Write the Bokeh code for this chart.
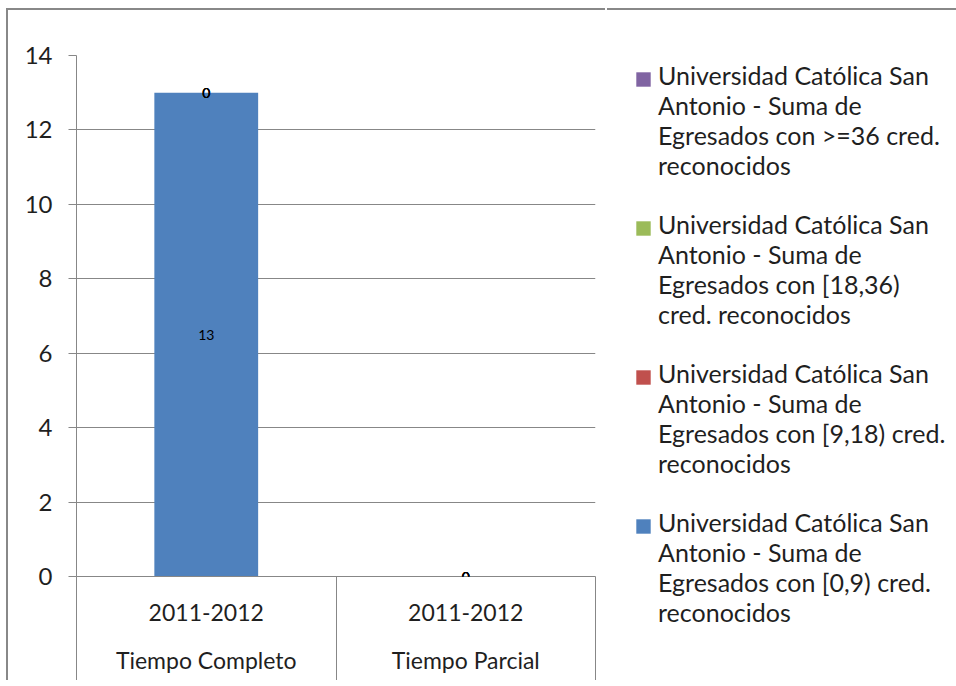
from bokeh.plotting import figure
from bokeh.models import (ColumnDataSource, FactorRange, Range1d, LinearAxis,
                          FixedTicker, SingleIntervalTicker, LabelSet, Legend, LegendItem)
from bokeh.core.properties import value
from bokeh.embed import file_html
from bokeh.resources import INLINE

# ---- data ----
categories = ["Tiempo Completo", "Tiempo Parcial"]
periods = ["2011-2012", "2011-2012"]
s_0_9 = [13, 0]
s_9_18 = [0, 0]
s_18_36 = [0, 0]
s_36_up = [0, 0]
series_keys = ["s_0_9", "s_9_18", "s_18_36", "s_36_up"]
series_values = [s_0_9, s_9_18, s_18_36, s_36_up]
series_colors = ["#4F81BD", "#C0504D", "#9BBB59", "#8064A2"]
series_labels = [
    "Universidad Católica San\nAntonio - Suma de\nEgresados con [0,9) cred.\nreconocidos",
    "Universidad Católica San\nAntonio - Suma de\nEgresados con [9,18) cred.\nreconocidos",
    "Universidad Católica San\nAntonio - Suma de\nEgresados con [18,36)\ncred. reconocidos",
    "Universidad Católica San\nAntonio - Suma de\nEgresados con >=36 cred.\nreconocidos",
]
y_max = 14
y_step = 2

FONT = "Lato"
GRID = "#878787"
TEXT = "#1f1f1f"
FRAME = "2px solid #888888"

data = {"cat": categories}
for k, v in zip(series_keys, series_values):
    data[k] = v
source = ColumnDataSource(data)

p = figure(x_range=FactorRange(*categories, range_padding=0, factor_padding=0),
           y_range=Range1d(0, y_max),
           width=599, height=672, output_backend="svg", toolbar_location=None,
           x_axis_location=None,
           min_border_left=68, min_border_top=45, min_border_right=12, min_border_bottom=106)
p.styles = {"margin-left": "6px", "margin-top": "8px", "border-left": FRAME, "border-top": FRAME}
p.outline_line_color = None
p.background_fill_color = "white"
p.border_fill_color = "white"

renderers = p.vbar_stack(series_keys, x="cat", width=0.4, source=source,
                         color=series_colors, line_color=None)

# data labels
lx, ly, lt = [], [], []
for i, c in enumerate(categories):
    bottom = 0
    for vals in series_values:
        v = vals[i]
        lx.append(c)
        ly.append(bottom + v / 2)
        lt.append(str(v))
        bottom += v
labels = LabelSet(x="x", y="y", text="t", source=ColumnDataSource(dict(x=lx, y=ly, t=lt)),
                  text_align="center", text_baseline="middle", text_font=value(FONT),
                  text_font_size=value("14px"), text_color="black")
p.add_layout(labels)

# y axis
yax = p.yaxis[0]
yax.ticker = SingleIntervalTicker(interval=y_step, num_minor_ticks=0)
yax.axis_line_color = GRID
yax.major_tick_line_color = GRID
yax.major_tick_out = 8
yax.major_tick_in = 0
yax.minor_tick_line_color = None
yax.major_label_standoff = 16
yax.major_label_text_font = FONT
yax.major_label_text_font_size = "24px"
yax.major_label_text_color = TEXT
p.ygrid.grid_line_color = GRID
p.xgrid.grid_line_color = None

# x axes (synthetic coordinates of the factor range): periods row with separators, then categories row
centers = [i + 0.5 for i in range(len(categories))]
edges = list(range(len(categories) + 1))

xa = LinearAxis(ticker=FixedTicker(ticks=centers, minor_ticks=edges))
xa.major_label_overrides = {c: per for c, per in zip(centers, periods)}
xa.axis_line_color = GRID
xa.major_tick_line_color = None
xa.major_tick_out = 0
xa.major_tick_in = 0
xa.minor_tick_line_color = GRID
xa.minor_tick_out = 104
xa.minor_tick_in = 0
xa.major_label_standoff = 27 - 104
xa.major_label_text_font = FONT
xa.major_label_text_font_size = "23px"
xa.major_label_text_color = TEXT
p.add_layout(xa, "below")

xb = LinearAxis(ticker=FixedTicker(ticks=centers, minor_ticks=[]))
xb.major_label_overrides = {c: cat for c, cat in zip(centers, categories)}
xb.axis_line_color = None
xb.major_tick_line_color = None
xb.major_tick_out = 0
xb.major_tick_in = 0
xb.minor_tick_line_color = None
xb.major_label_standoff = 22
xb.major_label_text_font = FONT
xb.major_label_text_font_size = "23px"
xb.major_label_text_color = TEXT
p.add_layout(xb, "below")

# legend panel: zero-height proxies carrying the series colours
lf = figure(width=349, height=640, output_backend="svg", toolbar_location=None,
            x_axis_location=None, y_axis_location=None,
            min_border_left=17, min_border_top=50, min_border_right=0, min_border_bottom=0)
lf.styles = {"position": "absolute", "left": "607px", "top": "8px", "border-top": FRAME}
lf.outline_line_color = None
lf.xgrid.grid_line_color = None
lf.ygrid.grid_line_color = None
swatches = [lf.vbar(x=[0], top=[0], bottom=[0], width=0.4, color=c, line_color=None)
            for c in series_colors]
blanks = [lf.vbar(x=[0], top=[0], bottom=[0], width=0.4, fill_alpha=0, line_color=None)
          for _ in series_colors]

# texts (multi-line labels)
text_items = [LegendItem(label=lab, renderers=[r]) for lab, r in zip(series_labels, blanks)][::-1]
legend_text = Legend(items=text_items, location="top_left", orientation="vertical",
                     glyph_width=27, glyph_height=1, label_standoff=7,
                     label_text_font=FONT, label_text_font_size="25px", label_text_color=TEXT,
                     spacing=29, padding=0, margin=0,
                     border_line_color=None, background_fill_alpha=0)
lf.add_layout(legend_text)

# colour squares aligned with each entry's first line
swatch_items = [LegendItem(label=" ", renderers=[r]) for r in swatches][::-1]
legend_sw = Legend(items=swatch_items, location="top_left", orientation="vertical",
                   glyph_width=18, glyph_height=18, label_standoff=0, label_width=0,
                   label_height=18, label_text_font_size="1px",
                   spacing=131, padding=11, margin=10,
                   border_line_color=None, background_fill_alpha=0)
lf.add_layout(legend_sw)

open("out.html", "w").write(file_html([p, lf], INLINE))
